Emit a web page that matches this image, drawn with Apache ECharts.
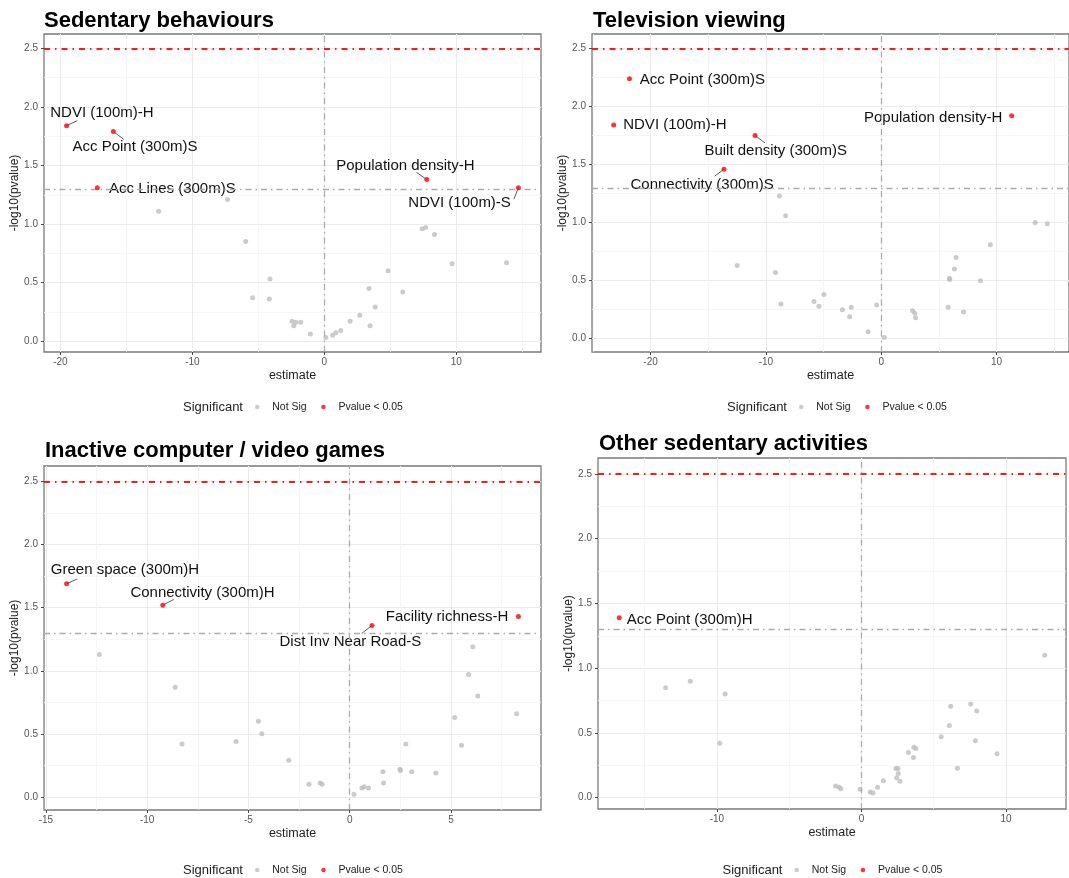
<!DOCTYPE html>
<html>
<head>
<meta charset="utf-8">
<title>Volcano plots of built-environment exposures</title>
<script src="https://cdn.jsdelivr.net/npm/echarts@6/dist/echarts.min.js"></script>
<style>
  html, body { margin: 0; padding: 0; background: #ffffff; }
  #chart { width: 1069px; height: 878px; }
</style>
</head>
<body>
<div id="chart"></div>
<script>
// ---------- Sedentary behaviours ----------
const sedSigNames    = ['NDVI (100m)-H', 'Acc Point (300m)S', 'Acc Lines (300m)S', 'Population density-H', 'NDVI (100m)-S'];
const sedSigEstimate = [-19.53, -15.99, -17.20, 7.76, 14.70];
const sedSigLogP     = [1.84, 1.79, 1.31, 1.38, 1.31];
const sedNsEstimate  = [-12.56, -7.34, -5.96, -5.44, -4.12, -4.17, -2.45, -2.32, -2.16, -1.79, -1.06, 0.11, 0.63, 0.87, 1.24, 1.95, 2.69, 3.38, 3.46, 3.85, 4.83, 5.94, 7.41, 7.68, 8.34, 9.68, 13.80];
const sedNsLogP      = [1.11, 1.21, 0.85, 0.37, 0.53, 0.36, 0.17, 0.13, 0.16, 0.16, 0.06, 0.03, 0.05, 0.07, 0.09, 0.17, 0.22, 0.45, 0.13, 0.29, 0.60, 0.42, 0.96, 0.97, 0.91, 0.66, 0.67];

// ---------- Television viewing ----------
const tvSigNames    = ['Acc Point (300m)S', 'NDVI (100m)-H', 'Built density (300m)S', 'Connectivity (300m)S', 'Population density-H'];
const tvSigEstimate = [-21.83, -23.20, -10.94, -13.63, 11.31];
const tvSigLogP     = [2.24, 1.84, 1.75, 1.46, 1.92];
const tvNsEstimate  = [-12.49, -9.17, -8.83, -8.69, -8.29, -5.83, -5.40, -4.97, -3.37, -2.74, -2.60, -1.14, -0.40, 0.26, 2.71, 2.91, 2.97, 5.80, 5.91, 5.94, 6.34, 6.49, 7.14, 8.60, 9.46, 13.34, 14.40];
const tvNsLogP      = [0.63, 0.57, 1.23, 0.30, 1.06, 0.32, 0.28, 0.38, 0.25, 0.19, 0.27, 0.06, 0.29, 0.01, 0.24, 0.22, 0.18, 0.27, 0.52, 0.51, 0.60, 0.70, 0.23, 0.50, 0.81, 1.00, 0.99];

// ---------- Inactive computer / video games ----------
const gameSigNames    = ['Green space (300m)H', 'Connectivity (300m)H', 'Dist Inv Near Road-S', 'Facility richness-H'];
const gameSigEstimate = [-13.98, -9.23, 1.10, 8.33];
const gameSigLogP     = [1.69, 1.52, 1.36, 1.43];
const gameNsEstimate  = [-12.36, -8.62, -8.28, -5.61, -4.51, -4.34, -3.01, -2.01, -1.46, -1.36, 0.21, 0.60, 0.72, 0.93, 1.64, 1.67, 2.48, 2.51, 2.77, 3.06, 4.25, 5.18, 5.52, 5.87, 6.08, 6.32, 8.24];
const gameNsLogP      = [1.13, 0.87, 0.42, 0.44, 0.60, 0.50, 0.29, 0.10, 0.11, 0.10, 0.02, 0.07, 0.08, 0.07, 0.20, 0.11, 0.22, 0.21, 0.42, 0.20, 0.19, 0.63, 0.41, 0.97, 1.19, 0.80, 0.66];

// ---------- Other sedentary activities ----------
const otherSigNames    = ['Acc Point (300m)H'];
const otherSigEstimate = [-16.75];
const otherSigLogP     = [1.39];
const otherNsEstimate  = [-13.54, -11.84, -9.80, -9.43, -1.78, -1.54, -1.43, -0.09, 0.61, 0.80, 1.12, 1.52, 2.39, 2.43, 2.53, 2.55, 2.67, 3.25, 3.60, 3.63, 3.77, 5.52, 6.08, 6.18, 6.64, 7.56, 7.88, 7.98, 9.38, 12.68];
const otherNsLogP      = [0.85, 0.90, 0.42, 0.80, 0.09, 0.08, 0.07, 0.065, 0.044, 0.036, 0.08, 0.13, 0.225, 0.155, 0.225, 0.186, 0.127, 0.349, 0.31, 0.39, 0.38, 0.471, 0.558, 0.706, 0.228, 0.724, 0.44, 0.67, 0.339, 1.101];

// Reference lines: corrected threshold, nominal p = 0.05, and zero effect
const strictLogP = 2.5;
const nominalLogP = -Math.log10(0.05);
const nullEstimate = 0;

const legendNames = ['Not Sig', 'Pvalue < 0.05'];
const FONT = '"Liberation Sans", Arial, Helvetica, sans-serif';

// Layout of each panel; label offsets are [dx, dy, segEndX, segEndY] in pixels from the point
const panels = [
  {
    title: 'Sedentary behaviours', names: sedSigNames, sx: sedSigEstimate, sy: sedSigLogP, nx: sedNsEstimate, ny: sedNsLogP,
    grid: { left: 44, top: 34, width: 497, height: 318 }, titleTop: 9.5, titleLeft: 44, legendY: 406, xSplit: 4,
    place: {
      'NDVI (100m)-H': [35.3, -13, 10.7, -5],
      'Acc Point (300m)S': [21.7, 15.4, 10.4, 7.7],
      'Acc Lines (300m)S': [75, 1],
      'Population density-H': [-21.4, -13.2, -10.4, -7.2],
      'NDVI (100m)-S': [-58.8, 14.8, -4.5, 11.4]
    }
  },
  {
    title: 'Television viewing', names: tvSigNames, sx: tvSigEstimate, sy: tvSigLogP, nx: tvNsEstimate, ny: tvNsLogP,
    grid: { left: 592, top: 34, width: 489, height: 318 }, titleTop: 9.5, titleLeft: 593, legendY: 406, xSplit: 4,
    place: {
      'Acc Point (300m)S': [72.9, 1],
      'NDVI (100m)-H': [61.2, 0],
      'Built density (300m)S': [20.6, 15.3, 9.8, 7.3],
      'Connectivity (300m)S': [-21.9, 15.2, -9.4, 6.9],
      'Population density-H': [-78.5, 1.7]
    }
  },
  {
    title: 'Inactive computer / video games', names: gameSigNames, sx: gameSigEstimate, sy: gameSigLogP, nx: gameNsEstimate, ny: gameNsLogP,
    grid: { left: 44, top: 466, width: 497, height: 344 }, titleTop: 440, titleLeft: 45, legendY: 869, xSplit: 5,
    place: {
      'Green space (300m)H': [58.4, -13.5, 10.6, -4.8],
      'Connectivity (300m)H': [39.7, -12.8, 11.1, -5.8],
      'Dist Inv Near Road-S': [-21.6, 16.8, -10.3, 8.1],
      'Facility richness-H': [-71.4, 0.4]
    }
  },
  {
    title: 'Other sedentary activities', names: otherSigNames, sx: otherSigEstimate, sy: otherSigLogP, nx: otherNsEstimate, ny: otherNsLogP,
    grid: { left: 598, top: 458, width: 468, height: 351 }, titleTop: 432.5, titleLeft: 599, legendY: 869, xSplit: 3,
    place: {
      'Acc Point (300m)H': [70.4, 2]
    }
  }
];

// ggplot-style continuous scale: data range widened by 5% on each side
function expandedRange(values) {
  const lo = Math.min.apply(null, values);
  const hi = Math.max.apply(null, values);
  const pad = (hi - lo) * 0.05;
  return [lo - pad, hi + pad];
}

const option = {
  animation: false,
  backgroundColor: '#ffffff',
  textStyle: { fontFamily: FONT },
  title: [],
  legend: [],
  grid: [],
  xAxis: [],
  yAxis: [],
  series: []
};

const dashRed = [6, 5, 1.5, 5];
const dashGrey = [6, 4, 1.5, 4];

panels.forEach(function (p, i) {
  const xr = expandedRange(p.sx.concat(p.nx, [nullEstimate]));
  const yr = expandedRange(p.sy.concat(p.ny, [strictLogP, nominalLogP]));
  const cx = p.grid.left + p.grid.width / 2;

  option.grid.push(Object.assign({
    show: true, borderColor: '#7a7a7a', borderWidth: 1.3, backgroundColor: 'transparent', containLabel: false
  }, p.grid));

  option.title.push({
    text: p.title, left: p.titleLeft, top: p.titleTop, padding: 0,
    textStyle: { fontFamily: FONT, fontSize: 22, fontWeight: 'bold', color: '#000000' }
  });
  option.title.push({
    text: 'Significant', left: cx - 109.5, top: p.legendY - 5.5, padding: 0,
    textStyle: { fontFamily: FONT, fontSize: 13, fontWeight: 'normal', color: '#222222' }
  });

  option.legend.push({
    data: legendNames, left: cx - 37.5, top: p.legendY - 4.5, padding: 0,
    orient: 'horizontal', icon: 'circle', itemWidth: 20, itemHeight: 4.5, itemGap: 14.5,
    selectedMode: false,
    textStyle: { fontFamily: FONT, fontSize: 10.5, color: '#222222' }
  });

  const axisCommon = {
    type: 'value', gridIndex: i, nameLocation: 'middle',
    nameTextStyle: { fontFamily: FONT, fontSize: 12.5, color: '#222222' },
    axisLine: { show: false, onZero: false },
    axisTick: { show: true, length: 3, lineStyle: { color: '#444444', width: 1 } },
    splitLine: { show: true, showMinLine: false, showMaxLine: false, lineStyle: { color: '#ebebeb', width: 1 } },
    minorTick: { show: false, splitNumber: 2 },
    minorSplitLine: { show: true, lineStyle: { color: '#f4f4f4', width: 0.8 } }
  };

  option.xAxis.push(Object.assign({}, axisCommon, {
    position: 'bottom',
    min: xr[0], max: xr[1], splitNumber: p.xSplit, name: 'estimate', nameGap: 17,
    axisLabel: { fontFamily: FONT, fontSize: 10, color: '#555555', margin: 5, showMinLabel: false, showMaxLabel: false }
  }));
  option.yAxis.push(Object.assign({}, axisCommon, {
    position: 'left',
    min: yr[0], max: yr[1], splitNumber: 5, name: '-log10(pvalue)', nameGap: 23,
    nameTextStyle: { fontFamily: FONT, fontSize: 12, color: '#222222' },
    axisLabel: {
      fontFamily: FONT, fontSize: 10, color: '#555555', margin: 6, showMinLabel: false, showMaxLabel: false,
      formatter: function (v) { return v.toFixed(1); }
    }
  }));

  // Non-significant exposures, with the reference lines
  option.series.push({
    name: 'Not Sig', type: 'scatter', xAxisIndex: i, yAxisIndex: i, z: 2,
    symbol: 'circle', symbolSize: 5, itemStyle: { color: '#bebebe' },
    data: p.nx.map(function (x, j) { return [x, p.ny[j]]; }),
    markLine: {
      silent: true, symbol: 'none', label: { show: false }, animation: false,
      data: [
        { yAxis: strictLogP, lineStyle: { color: '#ff1a1a', width: 2, type: dashRed } },
        { yAxis: nominalLogP, lineStyle: { color: '#ababab', width: 1.3, type: dashGrey } },
        { xAxis: nullEstimate, lineStyle: { color: '#ababab', width: 1.3, type: dashGrey } }
      ]
    }
  });

  // Significant exposures
  option.series.push({
    name: 'Pvalue < 0.05', type: 'scatter', xAxisIndex: i, yAxisIndex: i, z: 5,
    symbol: 'circle', symbolSize: 5, itemStyle: { color: '#ff0000' },
    data: p.sx.map(function (x, j) { return [x, p.sy[j]]; })
  });

  // Repelled text labels and their leader segments
  option.series.push({
    name: 'labels', type: 'custom', xAxisIndex: i, yAxisIndex: i, z: 4, silent: true, clip: false,
    data: p.sx.map(function (x, j) { return [x, p.sy[j], j]; }),
    renderItem: function (params, api) {
      const name = p.names[api.value(2)];
      const pt = api.coord([api.value(0), api.value(1)]);
      const pl = p.place[name];
      const children = [];
      if (pl.length > 2) {
        children.push({
          type: 'line',
          shape: { x1: pt[0], y1: pt[1], x2: pt[0] + pl[2], y2: pt[1] + pl[3] },
          style: { stroke: '#333333', lineWidth: 0.8 }
        });
      }
      children.push({
        type: 'text',
        style: {
          text: name, x: pt[0] + pl[0], y: pt[1] + pl[1],
          align: 'center', verticalAlign: 'middle',
          font: '15px ' + FONT, fill: '#111111'
        }
      });
      return { type: 'group', children: children };
    }
  });
});

const chart = echarts.init(document.getElementById('chart'), null, { renderer: 'canvas' });
chart.setOption(option);
</script>
</body>
</html>
